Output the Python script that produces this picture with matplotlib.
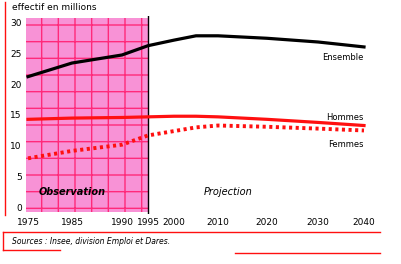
import matplotlib
matplotlib.use('agg')
import matplotlib.pyplot as plt
from matplotlib.lines import Line2D
import numpy as np

# data (millions)
years = [1975, 1985, 1990, 1995, 2000, 2005, 2010, 2020, 2030, 2040]
ensemble = [21.2, 23.4, 24.7, 26.2, 27.1, 27.8, 27.8, 27.4, 26.8, 26.0]
hommes = [14.3, 14.5, 14.6, 14.7, 14.8, 14.8, 14.7, 14.3, 13.8, 13.3]
femmes = [8.0, 9.2, 10.2, 11.7, 12.4, 13.0, 13.3, 13.1, 12.8, 12.5]

xticks = [1975, 1985, 1990, 1995, 2000, 2010, 2020, 2030, 2040]
yticks = [0, 5, 10, 15, 20, 25, 30]

# the printed x axis is not evenly spaced: piecewise scale
tick_px = [7, 28, 72, 122, 148, 174, 218, 267, 318, 364, 388]
tick_yr = [1970] + xticks + [2045]
fwd = lambda x: np.interp(x, tick_yr, tick_px)
inv = lambda p: np.interp(p, tick_px, tick_yr)

W, H = 402, 264
fig = plt.figure(figsize=(W / 100, H / 100), dpi=100)
x0, x1 = 26, 372
ytop, ybot = 16, 214
ax = fig.add_axes([x0 / W, 1 - ybot / H, (x1 - x0) / W, (ybot - ytop) / H])
ax.set_xscale('function', functions=(fwd, inv))
ax.set_xlim(inv(x0), inv(x1))
ax.set_ylim(-1, 31)

ax.axvspan(inv(x0), 1995, ymin=0.01, ymax=0.99, facecolor='#f892d6',
           edgecolor='#ff2a7a', hatch='+', linewidth=0)
ax.axvline(1995, color='black', lw=1.0)

ax.plot(years, ensemble, color='black', lw=2.3)
ax.plot(years, hommes, color='#ff1010', lw=2.3)
ax.plot(years, femmes, color='#ff1010', lw=2.8, linestyle=(0, (0.8, 0.9)))

ax.text(2040, ensemble[-1] - 1.0, 'Ensemble', ha='right', va='top', fontsize=6)
ax.text(2040, hommes[-1] + 0.6, 'Hommes', ha='right', va='bottom', fontsize=6)
ax.text(2040, femmes[-1] - 1.6, 'Femmes', ha='right', va='top', fontsize=6)
ax.text(1985, 2.5, 'Observation', ha='center', va='center', fontsize=7,
        style='italic', fontweight='bold')
ax.text(2012, 2.5, 'Projection', ha='center', va='center', fontsize=7,
        style='italic')

ax.set_xticks(xticks)
ax.set_xticklabels([str(y) for y in xticks])
ax.set_yticks(yticks)
ax.tick_params(length=0, labelsize=6.5, pad=3)
for s in ax.spines.values():
    s.set_visible(False)

fig.text(12 / W, 1 - 8 / H, 'effectif en millions', fontsize=6.5, va='center')
fig.text(12 / W, 1 - 242 / H, 'Sources : Insee, division Emploi et Dares.',
         fontsize=5.5, style='italic', va='center')

red = '#ff1010'
def px_line(xs, ys, **kw):
    fig.add_artist(Line2D([x / W for x in xs], [1 - y / H for y in ys],
                          color=red, lw=1.0, **kw))
px_line([5, 5], [2, 215])
px_line([3, 380], [232, 232])
px_line([3, 3], [232, 250])
px_line([3, 60], [250, 250])
px_line([235, 380], [253, 253])

plt.savefig('out.png', dpi=100)
